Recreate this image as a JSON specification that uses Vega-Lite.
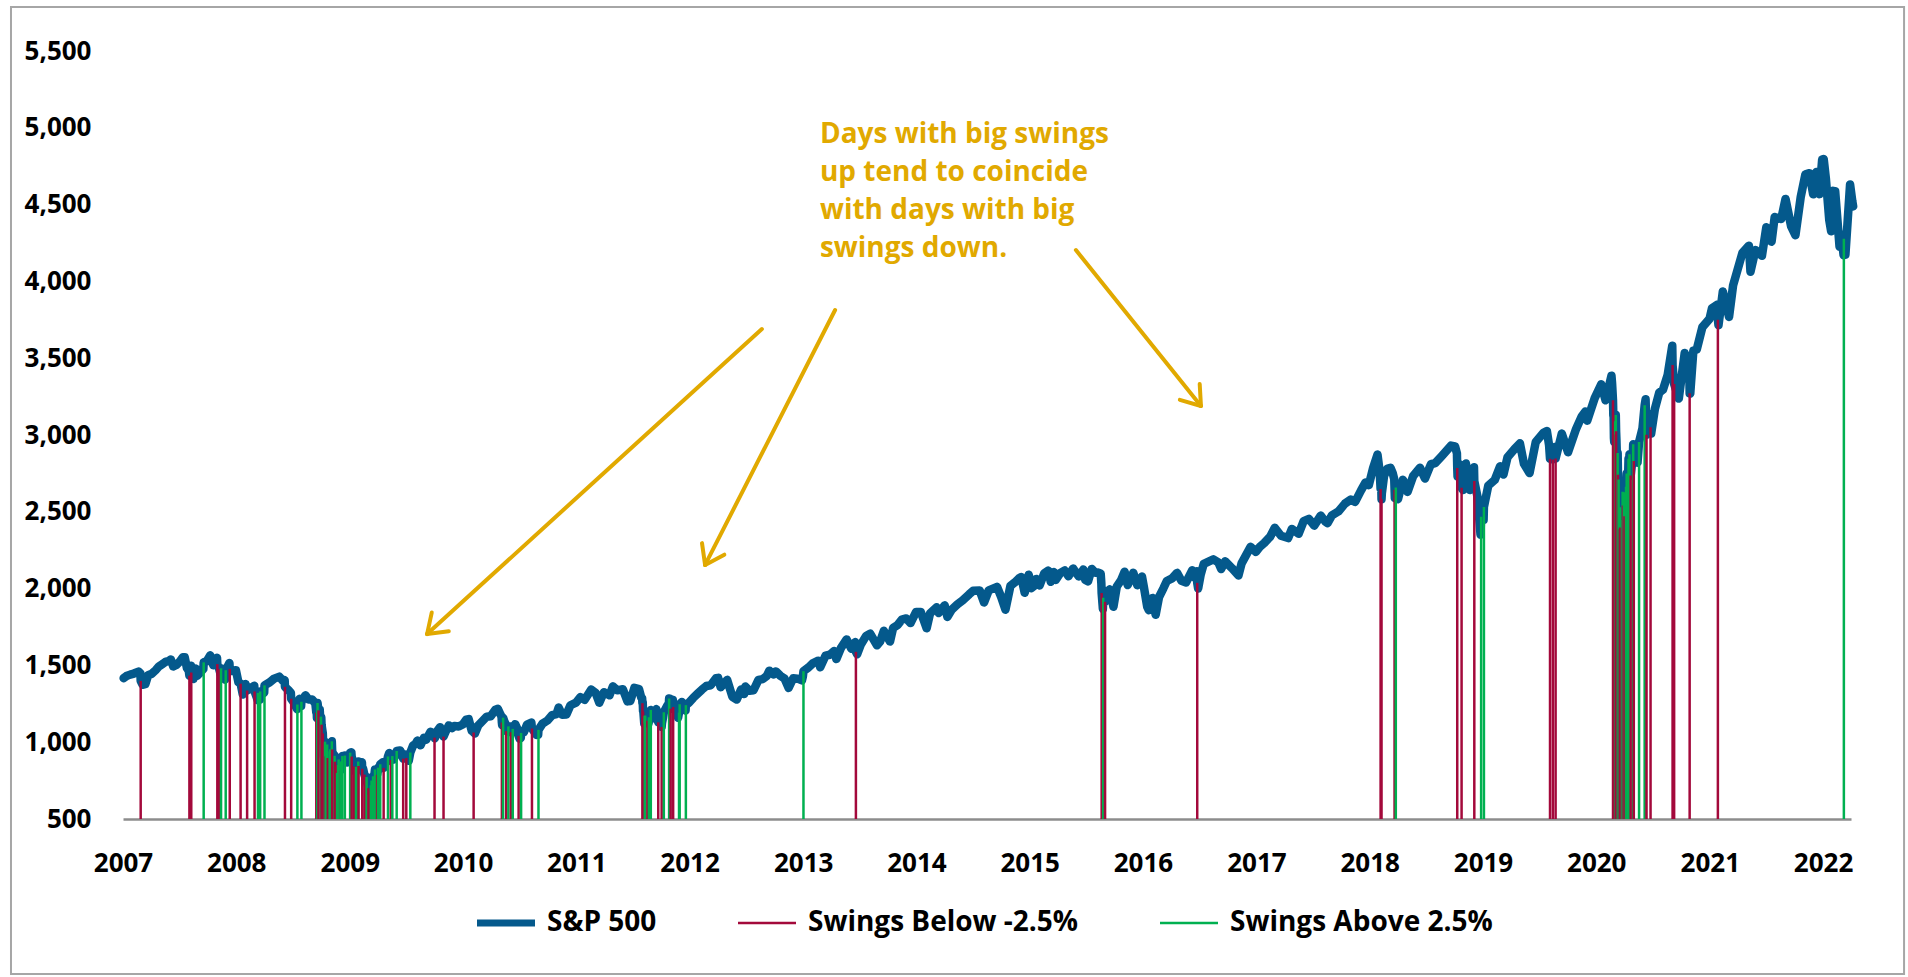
{
  "$schema": "https://vega.github.io/schema/vega-lite/v6.json",
  "width": 1728,
  "height": 768,
  "autosize": {"type": "none"},
  "padding": {"left": 123, "top": 51, "right": 57, "bottom": 158},
  "background": "white",
  "config": {"font": "Open Sans", "view": {"stroke": null}},
  "datasets": {
    "frame": [{"d1": "2006-01-05", "v1": 5786, "d2": "2022-09-19", "v2": -509}],
    "note": [{"date": "2013-02-24", "value": 4901, "label": "Days with big swings\nup tend to coincide\nwith days with big\nswings down."}],
    "arrows": [
      {"d1": "2012-08-21", "v1": 3690, "d2": "2009-09-07", "v2": 1704},
      {"d1": "2009-09-07", "v1": 1704, "d2": "2009-11-16", "v2": 1723},
      {"d1": "2009-09-07", "v1": 1704, "d2": "2009-09-22", "v2": 1844},
      {"d1": "2013-04-14", "v1": 3814, "d2": "2012-02-20", "v2": 2154},
      {"d1": "2012-02-20", "v1": 2154, "d2": "2012-04-22", "v2": 2221},
      {"d1": "2012-02-20", "v1": 2154, "d2": "2012-02-10", "v2": 2296},
      {"d1": "2015-05-30", "v1": 4204, "d2": "2016-07-06", "v2": 3189},
      {"d1": "2016-07-06", "v1": 3189, "d2": "2016-07-02", "v2": 3332},
      {"d1": "2016-07-06", "v1": 3189, "d2": "2016-04-29", "v2": 3229}
    ],
    "sp": [
      {"date":"2007-01-03","close":1416.6},{"date":"2007-01-12","close":1430.7},{"date":"2007-01-24","close":1440.1},{"date":"2007-02-05","close":1447.0},{"date":"2007-02-20","close":1459.7},{"date":"2007-02-26","close":1449.4},{"date":"2007-02-27","close":1399.0,"swing":"D"},{"date":"2007-03-05","close":1374.1},{"date":"2007-03-14","close":1377.9},{"date":"2007-03-23","close":1436.1},{"date":"2007-04-04","close":1445.9},{"date":"2007-04-16","close":1468.5},{"date":"2007-04-27","close":1494.1},{"date":"2007-05-08","close":1507.7},{"date":"2007-05-18","close":1522.8},{"date":"2007-05-30","close":1530.2},{"date":"2007-06-04","close":1539.2},{"date":"2007-06-12","close":1493.0},{"date":"2007-06-22","close":1502.6},{"date":"2007-07-03","close":1524.9},{"date":"2007-07-13","close":1552.5},{"date":"2007-07-19","close":1553.1},{"date":"2007-07-26","close":1482.7},{"date":"2007-08-01","close":1465.8},{"date":"2007-08-03","close":1433.1,"swing":"D"},{"date":"2007-08-08","close":1497.5},{"date":"2007-08-09","close":1453.6,"swing":"D"},{"date":"2007-08-16","close":1411.3},{"date":"2007-08-24","close":1479.4},{"date":"2007-08-28","close":1432.4},{"date":"2007-09-07","close":1453.6},{"date":"2007-09-17","close":1476.7},{"date":"2007-09-18","close":1519.8,"swing":"U"},{"date":"2007-09-28","close":1527.0},{"date":"2007-10-09","close":1565.2},{"date":"2007-10-19","close":1500.6},{"date":"2007-10-31","close":1549.4},{"date":"2007-11-01","close":1508.4,"swing":"D"},{"date":"2007-11-07","close":1475.6,"swing":"D"},{"date":"2007-11-12","close":1439.2},{"date":"2007-11-13","close":1481.1,"swing":"U"},{"date":"2007-11-26","close":1407.2},{"date":"2007-11-28","close":1469.0,"swing":"U"},{"date":"2007-12-10","close":1516.0},{"date":"2007-12-11","close":1477.7,"swing":"D"},{"date":"2007-12-20","close":1463.0},{"date":"2007-12-31","close":1468.4},
      {"date":"2008-01-08","close":1390.2},{"date":"2008-01-15","close":1381.0,"swing":"D"},{"date":"2008-01-22","close":1310.5},{"date":"2008-01-31","close":1378.6},{"date":"2008-02-05","close":1336.6,"swing":"D"},{"date":"2008-02-14","close":1348.9},{"date":"2008-02-28","close":1367.7},{"date":"2008-02-29","close":1330.6,"swing":"D"},{"date":"2008-03-10","close":1273.4},{"date":"2008-03-11","close":1320.7,"swing":"U"},{"date":"2008-03-17","close":1276.6},{"date":"2008-03-18","close":1330.7,"swing":"U"},{"date":"2008-03-31","close":1322.7},{"date":"2008-04-01","close":1370.2,"swing":"U"},{"date":"2008-04-18","close":1390.3},{"date":"2008-05-02","close":1413.9},{"date":"2008-05-19","close":1426.6},{"date":"2008-05-30","close":1400.4},{"date":"2008-06-05","close":1404.1},{"date":"2008-06-06","close":1360.7,"swing":"D"},{"date":"2008-06-18","close":1337.8},{"date":"2008-06-25","close":1322.0},{"date":"2008-06-26","close":1283.2,"swing":"D"},{"date":"2008-07-03","close":1262.9},{"date":"2008-07-15","close":1214.9},{"date":"2008-07-16","close":1245.4,"swing":"U"},{"date":"2008-07-23","close":1282.2},{"date":"2008-07-28","close":1234.4},{"date":"2008-07-29","close":1263.2,"swing":"U"},{"date":"2008-08-11","close":1305.3},{"date":"2008-08-21","close":1277.7},{"date":"2008-09-02","close":1277.6},{"date":"2008-09-12","close":1251.7},{"date":"2008-09-15","close":1192.7,"swing":"D"},{"date":"2008-09-16","close":1213.6},{"date":"2008-09-17","close":1156.4,"swing":"D"},{"date":"2008-09-18","close":1206.5,"swing":"U"},{"date":"2008-09-19","close":1255.1,"swing":"U"},{"date":"2008-09-22","close":1207.1,"swing":"D"},{"date":"2008-09-26","close":1213.3},{"date":"2008-09-29","close":1106.4,"swing":"D"},{"date":"2008-09-30","close":1166.4,"swing":"U"},{"date":"2008-10-01","close":1161.1},{"date":"2008-10-02","close":1114.3,"swing":"D"},{"date":"2008-10-03","close":1099.2},{"date":"2008-10-06","close":1056.9,"swing":"D"},{"date":"2008-10-07","close":996.2,"swing":"D"},{"date":"2008-10-08","close":984.9},{"date":"2008-10-09","close":909.9,"swing":"D"},{"date":"2008-10-10","close":899.2},{"date":"2008-10-13","close":1003.4,"swing":"U"},{"date":"2008-10-14","close":998.0},{"date":"2008-10-15","close":907.8,"swing":"D"},{"date":"2008-10-16","close":946.4,"swing":"U"},{"date":"2008-10-17","close":940.6},{"date":"2008-10-20","close":985.4,"swing":"U"},{"date":"2008-10-21","close":955.1},{"date":"2008-10-22","close":896.8,"swing":"D"},{"date":"2008-10-23","close":908.1},{"date":"2008-10-24","close":876.8,"swing":"D"},{"date":"2008-10-27","close":848.9,"swing":"D"},{"date":"2008-10-28","close":940.5,"swing":"U"},{"date":"2008-10-29","close":930.1},{"date":"2008-10-30","close":954.1,"swing":"U"},{"date":"2008-10-31","close":968.8},{"date":"2008-11-03","close":966.3},{"date":"2008-11-04","close":1005.8,"swing":"U"},{"date":"2008-11-05","close":952.8,"swing":"D"},{"date":"2008-11-06","close":904.9,"swing":"D"},{"date":"2008-11-07","close":931.0},{"date":"2008-11-10","close":919.2},{"date":"2008-11-11","close":899.0},{"date":"2008-11-12","close":852.3,"swing":"D"},{"date":"2008-11-13","close":911.3,"swing":"U"},{"date":"2008-11-14","close":873.3,"swing":"D"},{"date":"2008-11-17","close":850.8,"swing":"D"},{"date":"2008-11-18","close":859.1},{"date":"2008-11-19","close":806.6,"swing":"D"},{"date":"2008-11-20","close":752.4,"swing":"D"},{"date":"2008-11-21","close":800.0,"swing":"U"},{"date":"2008-11-24","close":851.8,"swing":"U"},{"date":"2008-11-25","close":857.4},{"date":"2008-11-26","close":887.7,"swing":"U"},{"date":"2008-11-28","close":896.2},{"date":"2008-12-01","close":816.2,"swing":"D"},{"date":"2008-12-02","close":848.8,"swing":"U"},{"date":"2008-12-03","close":870.7,"swing":"U"},{"date":"2008-12-04","close":845.2},{"date":"2008-12-05","close":876.1,"swing":"U"},{"date":"2008-12-08","close":909.7,"swing":"U"},{"date":"2008-12-10","close":899.2},{"date":"2008-12-12","close":879.7},{"date":"2008-12-15","close":868.6},{"date":"2008-12-16","close":913.2,"swing":"U"},{"date":"2008-12-19","close":887.9},{"date":"2008-12-24","close":868.2},{"date":"2008-12-31","close":903.3},
      {"date":"2009-01-02","close":931.8,"swing":"U"},{"date":"2009-01-06","close":934.7},{"date":"2009-01-07","close":906.7,"swing":"D"},{"date":"2009-01-09","close":890.4},{"date":"2009-01-13","close":871.8},{"date":"2009-01-14","close":842.6,"swing":"D"},{"date":"2009-01-16","close":850.1},{"date":"2009-01-20","close":805.2,"swing":"D"},{"date":"2009-01-21","close":840.2,"swing":"U"},{"date":"2009-01-23","close":832.0},{"date":"2009-01-27","close":845.7},{"date":"2009-01-28","close":874.1,"swing":"U"},{"date":"2009-01-29","close":845.1,"swing":"D"},{"date":"2009-02-03","close":838.5},{"date":"2009-02-09","close":869.9},{"date":"2009-02-10","close":827.2,"swing":"D"},{"date":"2009-02-13","close":826.8},{"date":"2009-02-17","close":789.2,"swing":"D"},{"date":"2009-02-20","close":770.1},{"date":"2009-02-23","close":743.3,"swing":"D"},{"date":"2009-02-24","close":773.1,"swing":"U"},{"date":"2009-02-27","close":735.1},{"date":"2009-03-02","close":700.8,"swing":"D"},{"date":"2009-03-04","close":712.9},{"date":"2009-03-05","close":682.6,"swing":"D"},{"date":"2009-03-09","close":676.5},{"date":"2009-03-10","close":719.6,"swing":"U"},{"date":"2009-03-11","close":721.4},{"date":"2009-03-12","close":750.7,"swing":"U"},{"date":"2009-03-16","close":753.9},{"date":"2009-03-17","close":778.1,"swing":"U"},{"date":"2009-03-20","close":768.5},{"date":"2009-03-23","close":822.9,"swing":"U"},{"date":"2009-03-27","close":815.9},{"date":"2009-03-30","close":787.5,"swing":"D"},{"date":"2009-04-01","close":811.1},{"date":"2009-04-02","close":834.4,"swing":"U"},{"date":"2009-04-08","close":825.2},{"date":"2009-04-09","close":856.6,"swing":"U"},{"date":"2009-04-17","close":869.6},{"date":"2009-04-20","close":832.4,"swing":"D"},{"date":"2009-04-24","close":866.2},{"date":"2009-04-30","close":872.8},{"date":"2009-05-01","close":877.5},{"date":"2009-05-04","close":907.2,"swing":"U"},{"date":"2009-05-08","close":929.2},{"date":"2009-05-12","close":908.4},{"date":"2009-05-13","close":883.9,"swing":"D"},{"date":"2009-05-15","close":882.9},{"date":"2009-05-18","close":909.7,"swing":"U"},{"date":"2009-05-22","close":887.0},{"date":"2009-05-29","close":919.1},{"date":"2009-06-01","close":942.9,"swing":"U"},{"date":"2009-06-12","close":946.2},{"date":"2009-06-19","close":921.2},{"date":"2009-06-22","close":893.0,"swing":"D"},{"date":"2009-06-30","close":919.3},{"date":"2009-07-02","close":896.4,"swing":"D"},{"date":"2009-07-10","close":879.1},{"date":"2009-07-15","close":932.7,"swing":"U"},{"date":"2009-07-24","close":979.3},{"date":"2009-07-31","close":987.5},{"date":"2009-08-07","close":1010.5},{"date":"2009-08-17","close":979.7},{"date":"2009-08-28","close":1028.9},{"date":"2009-09-04","close":1016.4},{"date":"2009-09-18","close":1068.3},{"date":"2009-09-23","close":1060.9},{"date":"2009-09-30","close":1057.1},{"date":"2009-10-01","close":1029.9,"swing":"D"},{"date":"2009-10-02","close":1025.2},{"date":"2009-10-09","close":1071.5},{"date":"2009-10-19","close":1097.9},{"date":"2009-10-29","close":1066.1},{"date":"2009-10-30","close":1036.2,"swing":"D"},{"date":"2009-11-06","close":1069.3},{"date":"2009-11-16","close":1109.3},{"date":"2009-11-27","close":1091.5},{"date":"2009-12-04","close":1106.0},{"date":"2009-12-18","close":1102.5},{"date":"2009-12-31","close":1115.1},
      {"date":"2010-01-11","close":1147.0},{"date":"2010-01-19","close":1150.2},{"date":"2010-01-29","close":1073.9},{"date":"2010-02-03","close":1097.3},{"date":"2010-02-04","close":1063.1,"swing":"D"},{"date":"2010-02-08","close":1056.7},{"date":"2010-02-19","close":1109.2},{"date":"2010-03-05","close":1138.7},{"date":"2010-03-18","close":1166.2},{"date":"2010-03-31","close":1169.4},{"date":"2010-04-15","close":1211.7},{"date":"2010-04-23","close":1217.3},{"date":"2010-04-30","close":1186.7},{"date":"2010-05-05","close":1165.9},{"date":"2010-05-06","close":1128.2,"swing":"D"},{"date":"2010-05-07","close":1110.9},{"date":"2010-05-10","close":1159.7,"swing":"U"},{"date":"2010-05-14","close":1135.7},{"date":"2010-05-19","close":1115.1},{"date":"2010-05-20","close":1071.6,"swing":"D"},{"date":"2010-05-25","close":1074.0},{"date":"2010-05-26","close":1068.0},{"date":"2010-05-27","close":1103.1,"swing":"U"},{"date":"2010-06-03","close":1102.8},{"date":"2010-06-04","close":1064.9,"swing":"D"},{"date":"2010-06-08","close":1062.0},{"date":"2010-06-10","close":1086.8,"swing":"U"},{"date":"2010-06-18","close":1117.5},{"date":"2010-06-28","close":1074.6},{"date":"2010-06-29","close":1041.2,"swing":"D"},{"date":"2010-07-02","close":1022.6},{"date":"2010-07-06","close":1028.1},{"date":"2010-07-07","close":1060.3,"swing":"U"},{"date":"2010-07-16","close":1064.9},{"date":"2010-07-26","close":1115.0},{"date":"2010-08-09","close":1127.8},{"date":"2010-08-11","close":1089.5,"swing":"D"},{"date":"2010-08-26","close":1047.2},{"date":"2010-08-31","close":1049.3},{"date":"2010-09-01","close":1080.3,"swing":"U"},{"date":"2010-09-14","close":1121.1},{"date":"2010-09-30","close":1141.2},{"date":"2010-10-15","close":1176.2},{"date":"2010-10-29","close":1183.3},{"date":"2010-11-05","close":1225.9},{"date":"2010-11-16","close":1178.3},{"date":"2010-11-30","close":1180.6},{"date":"2010-12-13","close":1240.5},{"date":"2010-12-31","close":1257.6},
      {"date":"2011-01-14","close":1293.2},{"date":"2011-01-28","close":1276.3},{"date":"2011-02-18","close":1343.0},{"date":"2011-03-04","close":1321.2},{"date":"2011-03-16","close":1256.9},{"date":"2011-03-31","close":1325.8},{"date":"2011-04-18","close":1305.1},{"date":"2011-04-29","close":1363.6},{"date":"2011-05-13","close":1337.8},{"date":"2011-05-31","close":1345.2},{"date":"2011-06-15","close":1265.4},{"date":"2011-06-24","close":1268.5},{"date":"2011-07-07","close":1353.2},{"date":"2011-07-22","close":1345.0},{"date":"2011-07-29","close":1292.3},{"date":"2011-08-01","close":1286.9},{"date":"2011-08-02","close":1254.1,"swing":"D"},{"date":"2011-08-03","close":1260.3},{"date":"2011-08-04","close":1200.1,"swing":"D"},{"date":"2011-08-05","close":1199.4},{"date":"2011-08-08","close":1119.5,"swing":"D"},{"date":"2011-08-09","close":1172.5,"swing":"U"},{"date":"2011-08-10","close":1120.8,"swing":"D"},{"date":"2011-08-11","close":1172.6,"swing":"U"},{"date":"2011-08-12","close":1178.8},{"date":"2011-08-17","close":1193.9},{"date":"2011-08-18","close":1140.7,"swing":"D"},{"date":"2011-08-22","close":1123.8},{"date":"2011-08-23","close":1162.4,"swing":"U"},{"date":"2011-08-26","close":1176.8},{"date":"2011-08-29","close":1210.1,"swing":"U"},{"date":"2011-09-01","close":1204.4},{"date":"2011-09-09","close":1154.2},{"date":"2011-09-16","close":1216.0},{"date":"2011-09-21","close":1166.8},{"date":"2011-09-22","close":1129.6,"swing":"D"},{"date":"2011-09-30","close":1131.4},{"date":"2011-10-03","close":1099.2,"swing":"D"},{"date":"2011-10-04","close":1124.0},{"date":"2011-10-07","close":1155.5},{"date":"2011-10-10","close":1194.9,"swing":"U"},{"date":"2011-10-21","close":1238.3},{"date":"2011-10-26","close":1242.0},{"date":"2011-10-27","close":1284.6,"swing":"U"},{"date":"2011-10-28","close":1285.1},{"date":"2011-10-31","close":1253.3},{"date":"2011-11-01","close":1218.3,"swing":"D"},{"date":"2011-11-08","close":1275.9},{"date":"2011-11-09","close":1229.1,"swing":"D"},{"date":"2011-11-17","close":1216.1},{"date":"2011-11-25","close":1158.7},{"date":"2011-11-28","close":1192.6,"swing":"U"},{"date":"2011-11-29","close":1195.2},{"date":"2011-11-30","close":1247.0,"swing":"U"},{"date":"2011-12-07","close":1261.0},{"date":"2011-12-19","close":1205.4},{"date":"2011-12-20","close":1241.3,"swing":"U"},{"date":"2011-12-30","close":1257.6},
      {"date":"2012-01-13","close":1289.1},{"date":"2012-01-27","close":1316.3},{"date":"2012-02-10","close":1342.6},{"date":"2012-02-24","close":1365.7},{"date":"2012-03-09","close":1370.9},{"date":"2012-03-26","close":1416.5},{"date":"2012-04-02","close":1419.0},{"date":"2012-04-10","close":1358.6},{"date":"2012-04-20","close":1378.5},{"date":"2012-05-01","close":1405.8},{"date":"2012-05-18","close":1295.2},{"date":"2012-06-01","close":1278.0},{"date":"2012-06-15","close":1342.8},{"date":"2012-06-25","close":1313.7},{"date":"2012-06-29","close":1362.2},{"date":"2012-07-12","close":1334.8},{"date":"2012-07-25","close":1337.9},{"date":"2012-08-10","close":1405.9},{"date":"2012-08-24","close":1411.1},{"date":"2012-09-06","close":1432.1},{"date":"2012-09-14","close":1465.8},{"date":"2012-09-28","close":1440.7},{"date":"2012-10-05","close":1460.9},{"date":"2012-10-19","close":1433.2},{"date":"2012-11-02","close":1414.2},{"date":"2012-11-15","close":1353.3},{"date":"2012-11-30","close":1416.2},{"date":"2012-12-14","close":1413.6},{"date":"2012-12-28","close":1402.4},{"date":"2012-12-31","close":1426.2},
      {"date":"2013-01-02","close":1462.4,"swing":"U"},{"date":"2013-01-18","close":1486.0},{"date":"2013-02-01","close":1513.2},{"date":"2013-02-19","close":1530.9},{"date":"2013-02-25","close":1487.9},{"date":"2013-03-14","close":1563.2},{"date":"2013-03-28","close":1569.2},{"date":"2013-04-11","close":1593.4},{"date":"2013-04-18","close":1541.6},{"date":"2013-05-03","close":1614.4},{"date":"2013-05-21","close":1669.2},{"date":"2013-06-05","close":1608.9},{"date":"2013-06-18","close":1651.8},{"date":"2013-06-20","close":1588.2,"swing":"D"},{"date":"2013-06-24","close":1573.1},{"date":"2013-07-05","close":1631.9},{"date":"2013-07-23","close":1692.4},{"date":"2013-08-05","close":1707.1},{"date":"2013-08-27","close":1630.5},{"date":"2013-09-06","close":1655.2},{"date":"2013-09-18","close":1725.5},{"date":"2013-10-08","close":1655.5},{"date":"2013-10-18","close":1744.5},{"date":"2013-11-01","close":1761.6},{"date":"2013-11-15","close":1798.2},{"date":"2013-11-29","close":1805.8},{"date":"2013-12-13","close":1775.3},{"date":"2013-12-31","close":1848.4},
      {"date":"2014-01-15","close":1848.4},{"date":"2014-02-03","close":1741.9},{"date":"2014-02-14","close":1838.6},{"date":"2014-03-07","close":1878.0},{"date":"2014-03-14","close":1841.1},{"date":"2014-04-02","close":1890.9},{"date":"2014-04-11","close":1815.7},{"date":"2014-04-25","close":1863.4},{"date":"2014-05-13","close":1897.5},{"date":"2014-05-30","close":1923.6},{"date":"2014-06-20","close":1962.9},{"date":"2014-07-03","close":1985.4},{"date":"2014-07-24","close":1988.0},{"date":"2014-08-07","close":1909.6},{"date":"2014-08-22","close":1988.4},{"date":"2014-09-18","close":2011.4},{"date":"2014-10-01","close":1946.2},{"date":"2014-10-15","close":1862.5},{"date":"2014-10-31","close":2018.1},{"date":"2014-11-14","close":2039.8},{"date":"2014-11-28","close":2067.6},{"date":"2014-12-05","close":2075.4},{"date":"2014-12-16","close":1972.7},{"date":"2014-12-29","close":2090.6},
      {"date":"2015-01-06","close":2002.6},{"date":"2015-01-16","close":2019.4},{"date":"2015-01-22","close":2063.2},{"date":"2015-02-02","close":2020.9},{"date":"2015-02-17","close":2100.3},{"date":"2015-03-02","close":2117.4},{"date":"2015-03-10","close":2044.2},{"date":"2015-03-20","close":2108.1},{"date":"2015-03-26","close":2056.2},{"date":"2015-04-10","close":2102.1},{"date":"2015-04-24","close":2117.7},{"date":"2015-05-06","close":2080.2},{"date":"2015-05-21","close":2130.8},{"date":"2015-06-08","close":2079.3},{"date":"2015-06-23","close":2124.2},{"date":"2015-06-29","close":2057.6},{"date":"2015-07-08","close":2046.7},{"date":"2015-07-20","close":2128.3},{"date":"2015-07-31","close":2103.8},{"date":"2015-08-10","close":2104.2},{"date":"2015-08-18","close":2096.9},{"date":"2015-08-20","close":2035.7},{"date":"2015-08-21","close":1970.9,"swing":"D"},{"date":"2015-08-24","close":1893.2,"swing":"D"},{"date":"2015-08-25","close":1867.6},{"date":"2015-08-26","close":1940.5,"swing":"U"},{"date":"2015-08-27","close":1987.7},{"date":"2015-08-31","close":1972.2},{"date":"2015-09-01","close":1913.9,"swing":"D"},{"date":"2015-09-09","close":1942.0},{"date":"2015-09-16","close":1995.3},{"date":"2015-09-28","close":1881.8},{"date":"2015-10-09","close":2014.9},{"date":"2015-10-22","close":2052.5},{"date":"2015-11-03","close":2109.8},{"date":"2015-11-13","close":2023.0},{"date":"2015-12-01","close":2102.6},{"date":"2015-12-14","close":2021.9},{"date":"2015-12-29","close":2078.4},
      {"date":"2016-01-04","close":2012.7},{"date":"2016-01-15","close":1880.3},{"date":"2016-01-20","close":1859.3},{"date":"2016-02-01","close":1939.4},{"date":"2016-02-11","close":1829.1},{"date":"2016-02-22","close":1945.5},{"date":"2016-03-07","close":2001.8},{"date":"2016-03-18","close":2049.6},{"date":"2016-04-04","close":2066.1},{"date":"2016-04-20","close":2102.4},{"date":"2016-05-04","close":2051.1},{"date":"2016-05-19","close":2040.0},{"date":"2016-06-08","close":2119.1},{"date":"2016-06-15","close":2071.5},{"date":"2016-06-23","close":2113.3},{"date":"2016-06-24","close":2037.4,"swing":"D"},{"date":"2016-06-27","close":2000.5},{"date":"2016-07-05","close":2088.6},{"date":"2016-07-15","close":2161.7},{"date":"2016-08-15","close":2190.2},{"date":"2016-08-31","close":2171.0},{"date":"2016-09-09","close":2127.8},{"date":"2016-09-22","close":2177.2},{"date":"2016-10-14","close":2133.0},{"date":"2016-11-04","close":2085.2},{"date":"2016-11-14","close":2164.2},{"date":"2016-12-13","close":2271.7},{"date":"2016-12-30","close":2238.8},
      {"date":"2017-01-13","close":2274.6},{"date":"2017-01-26","close":2296.7},{"date":"2017-02-14","close":2337.6},{"date":"2017-03-01","close":2396.0},{"date":"2017-03-21","close":2344.0},{"date":"2017-04-13","close":2329.0},{"date":"2017-04-25","close":2388.6},{"date":"2017-05-17","close":2357.0},{"date":"2017-06-02","close":2439.1},{"date":"2017-06-19","close":2453.5},{"date":"2017-07-06","close":2409.8},{"date":"2017-07-27","close":2475.4},{"date":"2017-08-10","close":2438.2},{"date":"2017-08-18","close":2425.6},{"date":"2017-09-01","close":2476.6},{"date":"2017-09-22","close":2502.2},{"date":"2017-10-13","close":2553.2},{"date":"2017-11-01","close":2579.4},{"date":"2017-11-15","close":2564.6},{"date":"2017-12-04","close":2639.4},{"date":"2017-12-18","close":2690.2},{"date":"2017-12-29","close":2673.6},
      {"date":"2018-01-12","close":2786.2},{"date":"2018-01-26","close":2872.9},{"date":"2018-02-02","close":2762.1},{"date":"2018-02-05","close":2648.9,"swing":"D"},{"date":"2018-02-07","close":2681.7},{"date":"2018-02-08","close":2581.0,"swing":"D"},{"date":"2018-02-09","close":2619.6},{"date":"2018-02-16","close":2732.2},{"date":"2018-02-26","close":2779.6},{"date":"2018-03-09","close":2786.6},{"date":"2018-03-16","close":2752.0},{"date":"2018-03-21","close":2711.9},{"date":"2018-03-22","close":2643.7,"swing":"D"},{"date":"2018-03-23","close":2588.3},{"date":"2018-03-26","close":2658.6,"swing":"U"},{"date":"2018-04-02","close":2581.9},{"date":"2018-04-18","close":2708.6},{"date":"2018-05-03","close":2629.7},{"date":"2018-05-21","close":2733.0},{"date":"2018-06-12","close":2786.9},{"date":"2018-06-28","close":2716.3},{"date":"2018-07-17","close":2809.6},{"date":"2018-07-31","close":2816.3},{"date":"2018-08-21","close":2863.0},{"date":"2018-09-20","close":2930.8},{"date":"2018-10-03","close":2925.5},{"date":"2018-10-09","close":2880.3},{"date":"2018-10-10","close":2785.7,"swing":"D"},{"date":"2018-10-11","close":2728.4},{"date":"2018-10-17","close":2809.2},{"date":"2018-10-23","close":2740.7},{"date":"2018-10-24","close":2656.1,"swing":"D"},{"date":"2018-10-29","close":2641.3},{"date":"2018-11-07","close":2813.9},{"date":"2018-11-20","close":2641.9},{"date":"2018-12-03","close":2790.4},{"date":"2018-12-04","close":2700.1,"swing":"D"},{"date":"2018-12-14","close":2600.0},{"date":"2018-12-24","close":2351.1},{"date":"2018-12-26","close":2467.7,"swing":"U"},{"date":"2018-12-31","close":2506.9},
      {"date":"2019-01-03","close":2447.9},{"date":"2019-01-04","close":2531.9,"swing":"U"},{"date":"2019-01-18","close":2670.7},{"date":"2019-02-08","close":2707.9},{"date":"2019-02-25","close":2796.1},{"date":"2019-03-08","close":2743.1},{"date":"2019-03-21","close":2854.9},{"date":"2019-04-12","close":2907.4},{"date":"2019-04-30","close":2945.8},{"date":"2019-05-13","close":2811.9},{"date":"2019-05-31","close":2752.1},{"date":"2019-06-20","close":2954.2},{"date":"2019-07-15","close":3014.3},{"date":"2019-07-26","close":3025.9},{"date":"2019-08-02","close":2932.1},{"date":"2019-08-05","close":2844.7,"swing":"D"},{"date":"2019-08-12","close":2883.1},{"date":"2019-08-14","close":2840.6,"swing":"D"},{"date":"2019-08-22","close":2923.0},{"date":"2019-08-23","close":2847.1,"swing":"D"},{"date":"2019-09-12","close":3009.6},{"date":"2019-10-02","close":2887.6},{"date":"2019-10-28","close":3039.4},{"date":"2019-11-15","close":3120.5},{"date":"2019-11-27","close":3153.6},{"date":"2019-12-03","close":3093.2},{"date":"2019-12-27","close":3240.0},
      {"date":"2020-01-17","close":3329.6},{"date":"2020-01-31","close":3225.5},{"date":"2020-02-19","close":3386.2},{"date":"2020-02-21","close":3337.8},{"date":"2020-02-24","close":3225.9,"swing":"D"},{"date":"2020-02-25","close":3128.2,"swing":"D"},{"date":"2020-02-26","close":3116.4},{"date":"2020-02-27","close":2978.8,"swing":"D"},{"date":"2020-02-28","close":2954.2},{"date":"2020-03-02","close":3090.2,"swing":"U"},{"date":"2020-03-03","close":3003.4,"swing":"D"},{"date":"2020-03-04","close":3130.1,"swing":"U"},{"date":"2020-03-05","close":3023.9,"swing":"D"},{"date":"2020-03-06","close":2972.4},{"date":"2020-03-09","close":2746.6,"swing":"D"},{"date":"2020-03-10","close":2882.2,"swing":"U"},{"date":"2020-03-11","close":2741.4,"swing":"D"},{"date":"2020-03-12","close":2480.6,"swing":"D"},{"date":"2020-03-13","close":2711.0,"swing":"U"},{"date":"2020-03-16","close":2386.1,"swing":"D"},{"date":"2020-03-17","close":2529.2,"swing":"U"},{"date":"2020-03-18","close":2398.1,"swing":"D"},{"date":"2020-03-19","close":2409.4},{"date":"2020-03-20","close":2304.9,"swing":"D"},{"date":"2020-03-23","close":2237.4,"swing":"D"},{"date":"2020-03-24","close":2447.3,"swing":"U"},{"date":"2020-03-25","close":2475.6},{"date":"2020-03-26","close":2630.1,"swing":"U"},{"date":"2020-03-27","close":2541.5,"swing":"D"},{"date":"2020-03-30","close":2626.7,"swing":"U"},{"date":"2020-03-31","close":2584.6},{"date":"2020-04-01","close":2470.5,"swing":"D"},{"date":"2020-04-03","close":2488.7},{"date":"2020-04-06","close":2663.7,"swing":"U"},{"date":"2020-04-08","close":2750.0,"swing":"U"},{"date":"2020-04-13","close":2761.6},{"date":"2020-04-14","close":2846.1,"swing":"U"},{"date":"2020-04-16","close":2799.6},{"date":"2020-04-17","close":2874.6,"swing":"U"},{"date":"2020-04-20","close":2823.2},{"date":"2020-04-21","close":2736.6,"swing":"D"},{"date":"2020-04-28","close":2863.4},{"date":"2020-04-29","close":2939.5,"swing":"U"},{"date":"2020-05-01","close":2830.7,"swing":"D"},{"date":"2020-05-13","close":2820.0},{"date":"2020-05-18","close":2953.9,"swing":"U"},{"date":"2020-05-29","close":3044.3},{"date":"2020-06-05","close":3193.9,"swing":"U"},{"date":"2020-06-08","close":3232.4},{"date":"2020-06-11","close":3002.1,"swing":"D"},{"date":"2020-06-23","close":3131.3},{"date":"2020-06-24","close":3050.3,"swing":"D"},{"date":"2020-06-26","close":3009.1},{"date":"2020-07-08","close":3169.9},{"date":"2020-07-22","close":3276.0},{"date":"2020-08-03","close":3294.6},{"date":"2020-08-18","close":3389.8},{"date":"2020-09-02","close":3580.8},{"date":"2020-09-03","close":3455.1,"swing":"D"},{"date":"2020-09-08","close":3331.8,"swing":"D"},{"date":"2020-09-23","close":3236.9},{"date":"2020-10-12","close":3534.2},{"date":"2020-10-27","close":3390.7},{"date":"2020-10-28","close":3271.0,"swing":"D"},{"date":"2020-10-30","close":3270.0},{"date":"2020-11-09","close":3550.5},{"date":"2020-11-20","close":3557.5},{"date":"2020-12-08","close":3702.3},{"date":"2020-12-31","close":3756.1},
      {"date":"2021-01-08","close":3824.7},{"date":"2021-01-26","close":3849.6},{"date":"2021-01-27","close":3750.8,"swing":"D"},{"date":"2021-01-29","close":3714.2},{"date":"2021-02-12","close":3934.8},{"date":"2021-03-04","close":3768.5},{"date":"2021-03-17","close":3974.1},{"date":"2021-04-16","close":4185.5},{"date":"2021-05-07","close":4232.6},{"date":"2021-05-12","close":4063.0},{"date":"2021-05-28","close":4204.1},{"date":"2021-06-18","close":4166.5},{"date":"2021-07-02","close":4352.3},{"date":"2021-07-19","close":4258.5},{"date":"2021-07-29","close":4419.2},{"date":"2021-08-19","close":4405.8},{"date":"2021-09-02","close":4537.0},{"date":"2021-09-20","close":4357.7},{"date":"2021-10-04","close":4300.5},{"date":"2021-10-21","close":4549.8},{"date":"2021-11-05","close":4697.5},{"date":"2021-11-18","close":4704.5},{"date":"2021-11-30","close":4567.0},{"date":"2021-12-10","close":4712.0},{"date":"2021-12-20","close":4568.0},{"date":"2021-12-29","close":4793.1},
      {"date":"2022-01-03","close":4796.6},{"date":"2022-01-10","close":4670.3},{"date":"2022-01-21","close":4397.9},{"date":"2022-01-27","close":4326.5},{"date":"2022-02-02","close":4589.4},{"date":"2022-02-09","close":4587.2},{"date":"2022-02-23","close":4225.5},{"date":"2022-02-24","close":4288.7},{"date":"2022-03-01","close":4306.3},{"date":"2022-03-08","close":4170.7},{"date":"2022-03-09","close":4277.9,"swing":"U"},{"date":"2022-03-14","close":4173.1},{"date":"2022-03-29","close":4631.6},{"date":"2022-04-05","close":4525.1},{"date":"2022-04-08","close":4488.3}
    ]
  },
  "layer": [
    {
      "data": {"name": "frame"},
      "mark": {"type": "rect", "filled": false, "stroke": "#A6A6A6", "strokeWidth": 2},
      "encoding": {
        "x": {"field": "d1", "type": "temporal", "scale": {"type": "utc", "domain": ["2007-01-01", "2022-04-01"]}},
        "x2": {"field": "d2"},
        "y": {"field": "v1", "type": "quantitative", "scale": {"domain": [500, 5500], "nice": false, "zero": false}},
        "y2": {"field": "v2"}
      }
    },
    {
      "data": {"name": "sp"},
      "mark": {"type": "line", "strokeWidth": 8.5, "strokeJoin": "round", "strokeCap": "round"},
      "encoding": {
        "x": {
          "field": "date", "type": "temporal",
          "axis": {
            "title": null, "grid": false, "ticks": false, "tickSize": 0,
            "domainColor": "#8C8C8C", "domainWidth": 2.5,
            "values": ["2007-01-01", "2008-01-01", "2009-01-01", "2010-01-01", "2011-01-01", "2012-01-01", "2013-01-01", "2014-01-01", "2015-01-01", "2016-01-01", "2017-01-01", "2018-01-01", "2019-01-01", "2020-01-01", "2021-01-01", "2022-01-01"],
            "labelExpr": "utcFormat(datum.value, '%Y')",
            "labelFont": "Open Sans", "labelFontSize": 26, "labelFontWeight": "bold", "labelColor": "#000000",
            "labelPadding": 31, "labelAlign": "center", "labelOverlap": false, "labelFlush": false
          }
        },
        "y": {
          "field": "close", "type": "quantitative",
          "axis": {
            "title": null, "grid": false, "ticks": false, "tickSize": 0, "domain": false,
            "values": [500, 1000, 1500, 2000, 2500, 3000, 3500, 4000, 4500, 5000, 5500],
            "format": ",.0f",
            "labelFont": "Open Sans", "labelFontSize": 26, "labelFontWeight": "bold", "labelColor": "#000000",
            "labelPadding": 32
          }
        },
        "color": {
          "datum": "S&P 500", "type": "nominal",
          "scale": {"domain": ["S&P 500", "D", "U"], "range": ["#04598C", "#A3093B", "#00B050"]},
          "legend": {
            "title": null, "orient": "none", "legendX": 369, "legendY": 858,
            "direction": "horizontal", "columns": 3,
            "symbolType": "stroke", "symbolSize": 3364, "symbolStrokeWidth": 2.5,
            "labelFont": "Open Sans", "labelFontSize": 28, "labelFontWeight": "bold", "labelColor": "#000000",
            "labelOffset": 27, "columnPadding": 76, "padding": 0, "labelLimit": 0,
            "labelExpr": "datum.value === 'D' ? 'Swings Below -2.5%' : (datum.value === 'U' ? 'Swings Above 2.5%' : 'S&P 500')",
            "encode": {"symbols": {"update": {"strokeWidth": {"signal": "datum.value === 'S&P 500' ? 7 : 2.5"}}}}
          }
        }
      }
    },
    {
      "data": {"name": "sp"},
      "transform": [{"filter": "isValid(datum.swing)"}],
      "mark": {"type": "rule", "strokeWidth": 2.5},
      "encoding": {
        "x": {"field": "date", "type": "temporal"},
        "y": {"field": "close", "type": "quantitative"},
        "y2": {"datum": 500},
        "color": {"field": "swing", "type": "nominal", "legend": {"title": null}}
      }
    },
    {
      "data": {"name": "arrows"},
      "mark": {"type": "rule", "stroke": "#E1A900", "strokeWidth": 4, "strokeCap": "round"},
      "encoding": {
        "x": {"field": "d1", "type": "temporal"},
        "x2": {"field": "d2"},
        "y": {"field": "v1", "type": "quantitative"},
        "y2": {"field": "v2"}
      }
    },
    {
      "data": {"name": "note"},
      "mark": {"type": "text", "align": "left", "baseline": "alphabetic", "lineBreak": "\n", "lineHeight": 38, "font": "Open Sans", "fontSize": 28, "fontWeight": "bold", "color": "#E1A900"},
      "encoding": {
        "x": {"field": "date", "type": "temporal"},
        "y": {"field": "value", "type": "quantitative"},
        "text": {"field": "label"}
      }
    }
  ]
}
